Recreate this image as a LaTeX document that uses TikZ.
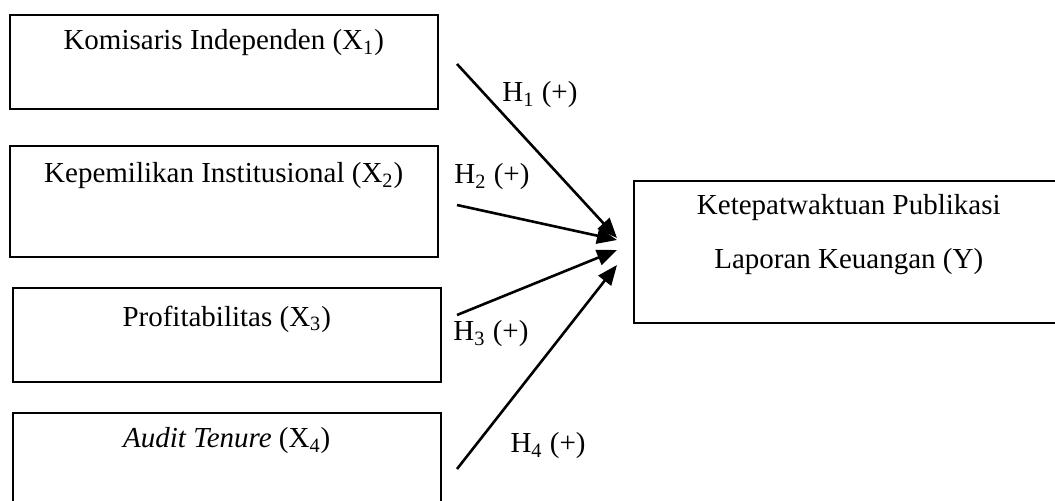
\documentclass[tikz,border=0pt]{standalone}
\usepackage{fontspec}
\setmainfont{Liberation Serif}
\usepackage{tikz}
\usetikzlibrary{calc}
\usetikzlibrary{arrows.meta}

\tikzset{
  varbox/.style={draw, line width=0.75pt, anchor=north west, inner sep=0pt},
  vartext/.style={font=\fontsize{14.5}{17}\selectfont, inner sep=0pt},
  hyp/.style={font=\fontsize{14.5}{17}\selectfont, inner sep=0pt},
  arr/.style={line width=1.3pt, -{Triangle[length=10pt,width=8pt]}}
}

\begin{document}
\begin{tikzpicture}[x=0.5pt,y=-0.5pt]
  \useasboundingbox (0,0) rectangle (1055,500);
  \clip (0,0) rectangle (1055,500);

  \node [varbox, minimum width=214pt, minimum height=47pt] (x1) at (9,14) {};
  \node [varbox, minimum width=214pt, minimum height=55.5pt] (x2) at (9,145) {};
  \node [varbox, minimum width=214pt, minimum height=47pt] (x3) at (12,287) {};
  \node [varbox, minimum width=214pt, minimum height=60pt] (x4) at (12,412) {};
  \node [varbox, minimum width=215pt, minimum height=71pt] (y) at (633,180) {};

  \node [vartext] (tx1) at ($ (x1.north)+(0,29) $) {Komisaris Independen (X\textsubscript{1})};
  \node [vartext] (tx2) at ($ (x2.north)+(0,31) $) {Kepemilikan Institusional (X\textsubscript{2})};
  \node [vartext] (tx3) at ($ (x3.north)+(0,32) $) {Profitabilitas (X\textsubscript{3})};
  \node [vartext] (tx4) at ($ (x4.north)+(0,29) $) {\textit{Audit Tenure} (X\textsubscript{4})};
  \node [vartext] (ty1) at ($ (y.north)+(0,28) $) {Ketepatwaktuan Publikasi};
  \node [vartext] (ty2) at ($ (y.north)+(0,82) $) {Laporan Keuangan (Y)};

  \coordinate (s1) at (457,64);
  \coordinate (s2) at (457,205);
  \coordinate (s3) at (457,315);
  \coordinate (s4) at (457,469);
  \coordinate (e1) at (617,238);
  \coordinate (e2) at (617,240);
  \coordinate (e3) at (617,250);
  \coordinate (e4) at (617,265);

  \draw [arr] (s1) -- (e1);
  \draw [arr] (s2) -- (e2);
  \draw [arr] (s3) -- (e3);
  \draw [arr] (s4) -- (e4);

  \node [hyp] (h1) at (540,95) {H\textsubscript{1} (+)};
  \node [hyp] (h2) at (492,177) {H\textsubscript{2} (+)};
  \node [hyp] (h3) at (491,334) {H\textsubscript{3} (+)};
  \node [hyp] (h4) at (548,446) {H\textsubscript{4} (+)};
\end{tikzpicture}
\end{document}
